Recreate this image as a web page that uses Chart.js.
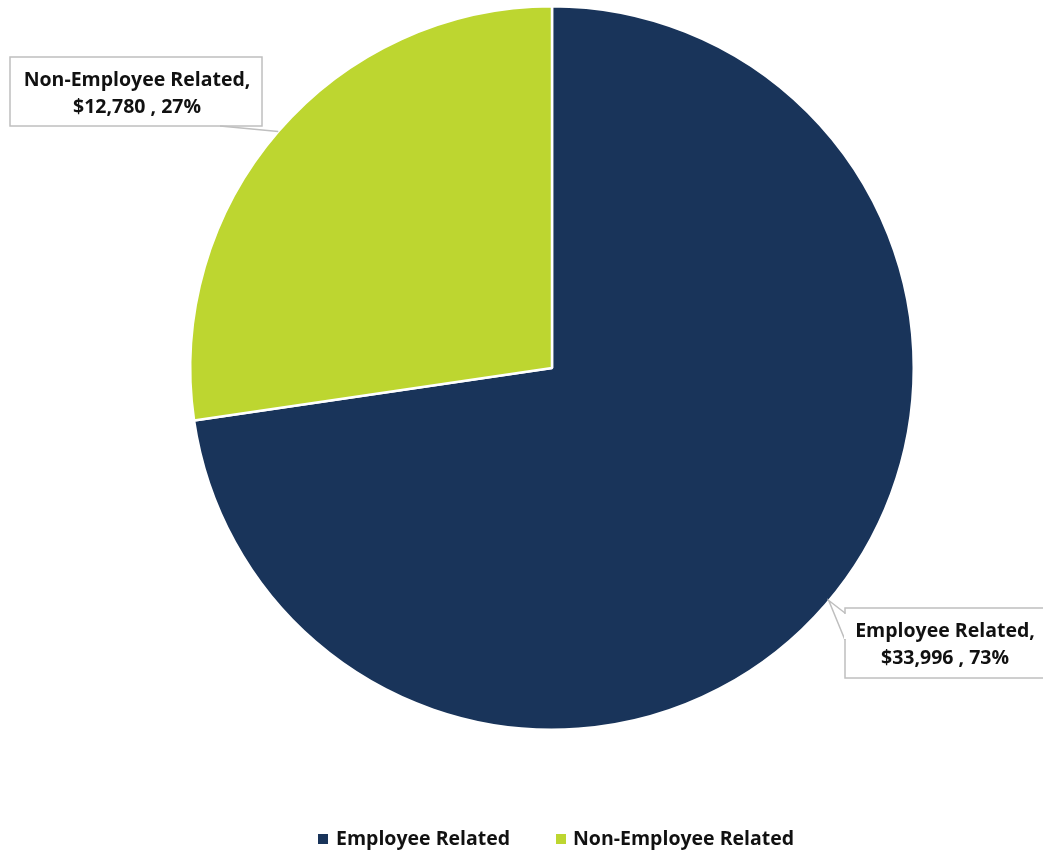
<!DOCTYPE html>
<html>
<head>
<meta charset="utf-8">
<script src="https://cdn.jsdelivr.net/npm/chart.js@4.4.1/dist/chart.umd.min.js"></script>
<style>
  html, body { margin: 0; padding: 0; background: #fff; }
  #wrap { width: 1043px; height: 851px; position: relative; }
</style>
</head>
<body>
<div id="wrap"><canvas id="chart" width="1043" height="851"></canvas></div>
<script>
// Data
const categories = ['Employee Related', 'Non-Employee Related'];
const amounts = [33996, 12780];
const percents = ['73%', '27%'];
const colors = ['#19345a', '#bdd630'];

// callout boxes (box rect relative to canvas, pointer kind)
const callouts = [
  { x: 845, y: 608, w: 210, h: 70, pointer: 'wedge' },
  { x: 10, y: 57, w: 252, h: 69, pointer: 'line' }
];

const FONT = 'bold 19.5px "Open Sans", "Noto Sans", sans-serif';

function fmtMoney(v) {
  return '$' + v.toLocaleString('en-US');
}

const calloutPlugin = {
  id: 'callouts',
  afterDatasetsDraw(chart) {
    const ctx = chart.ctx;
    const meta = chart.getDatasetMeta(0);
    meta.data.forEach((arc, i) => {
      const mid = (arc.startAngle + arc.endAngle) / 2;
      const ax = arc.x + Math.cos(mid) * arc.outerRadius;
      const ay = arc.y + Math.sin(mid) * arc.outerRadius;
      const c = callouts[i];
      ctx.save();
      ctx.strokeStyle = '#bfbfbf';
      ctx.lineWidth = 1.5;
      ctx.fillStyle = '#fff';
      ctx.fillRect(c.x, c.y, c.w, c.h);
      ctx.strokeRect(c.x, c.y, c.w, c.h);
      ctx.beginPath();
      if (c.pointer === 'wedge') {
        ctx.moveTo(c.x, c.y + 5);
        ctx.lineTo(ax + 3, ay - 4);
        ctx.lineTo(c.x, c.y + 32);
        ctx.stroke();
        ctx.fillStyle = '#fff';
        ctx.fillRect(c.x - 1, c.y + 6, 3, 25);
      } else {
        ctx.moveTo(c.x + 210, c.y + c.h);
        ctx.lineTo(ax, ay);
        ctx.stroke();
      }
      ctx.fillStyle = '#111';
      ctx.font = FONT;
      ctx.textAlign = 'center';
      ctx.textBaseline = 'middle';
      const cx = i === 0 ? c.x + 100 : c.x + c.w / 2 + 1;
      ctx.fillText(categories[i] + ',', cx, c.y + 23);
      ctx.fillText(fmtMoney(amounts[i]) + ' , ' + percents[i], cx, c.y + 50);
      ctx.restore();
    });
  }
};

const legendPlugin = {
  id: 'bottomLegend',
  afterDraw(chart) {
    const ctx = chart.ctx;
    const items = [{ sq: 318, tx: 336 }, { sq: 556, tx: 573 }];
    ctx.save();
    ctx.font = FONT;
    ctx.textBaseline = 'middle';
    ctx.textAlign = 'left';
    items.forEach((it, i) => {
      ctx.fillStyle = colors[i];
      ctx.fillRect(it.sq, 834, 10, 10);
      ctx.fillStyle = '#111';
      ctx.fillText(categories[i], it.tx, 839);
    });
    ctx.restore();
  }
};

new Chart(document.getElementById('chart'), {
  type: 'pie',
  data: {
    labels: categories,
    datasets: [{
      data: amounts,
      backgroundColor: colors,
      borderColor: '#ffffff',
      borderWidth: 2.5
    }]
  },
  options: {
    responsive: false,
    animation: false,
    layout: { padding: { left: 189, right: 128, top: 5, bottom: 120 } },
    plugins: {
      legend: { display: false },
      tooltip: { enabled: false }
    }
  },
  plugins: [calloutPlugin, legendPlugin]
});
</script>
</body>
</html>
